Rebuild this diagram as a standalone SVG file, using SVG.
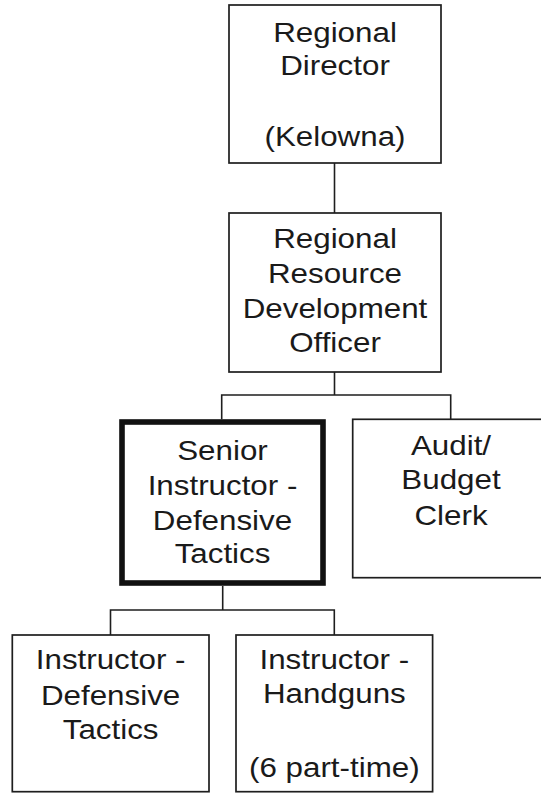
<svg xmlns="http://www.w3.org/2000/svg" width="541" height="793" viewBox="0 0 541 793">
<style>
.box{fill:#fff;stroke:#1e1e1e;stroke-width:1.7}
.thick{fill:#fff;stroke:#111;stroke-width:5.6}
.conn{fill:none;stroke:#1e1e1e;stroke-width:1.6}
text{font-family:"Liberation Sans",Arial,sans-serif;font-size:27.5px;fill:#1a1a1a;text-anchor:middle}
</style>
<rect width="541" height="793" fill="#fff"/>
<g id="connectors">
<path class="conn" d="M334.5 163V213"/>
<path class="conn" d="M334.5 372V395M221.7 419.3V395H450.7V419.3"/>
<path class="conn" d="M222.7 586V610M110.5 635V610H334.3V635"/>
</g>
<g id="regional-director">
<rect class="box" x="229" y="5" width="212" height="158"/>
<g transform="translate(335 0) scale(1.14 1)">
<text x="0" y="41.7">Regional</text>
<text x="0" y="75">Director</text>
<text x="0" y="146.5">(Kelowna)</text>
</g>
</g>
<g id="resource-officer">
<rect class="box" x="229" y="213" width="212" height="159"/>
<g transform="translate(335 0) scale(1.14 1)">
<text x="0" y="248.3">Regional</text>
<text x="0" y="283.3">Resource</text>
<text x="0" y="318.3">Development</text>
<text x="0" y="351.7">Officer</text>
</g>
</g>
<g id="senior-instructor">
<rect class="thick" x="122" y="422" width="201" height="161"/>
<g transform="translate(222.5 0) scale(1.14 1)">
<text x="0" y="460">Senior</text>
<text x="0" y="495">Instructor -</text>
<text x="0" y="530">Defensive</text>
<text x="0" y="563.3">Tactics</text>
</g>
</g>
<g id="audit-clerk">
<rect class="box" x="352.7" y="419.3" width="196.6" height="158.4"/>
<g transform="translate(451 0) scale(1.14 1)">
<text x="0" y="455">Audit/</text>
<text x="0" y="489.3">Budget</text>
<text x="0" y="525">Clerk</text>
</g>
</g>
<g id="instructor-dt">
<rect class="box" x="12.3" y="635" width="196.7" height="156.7"/>
<g transform="translate(110.6 0) scale(1.14 1)">
<text x="0" y="669.3">Instructor -</text>
<text x="0" y="705">Defensive</text>
<text x="0" y="739.3">Tactics</text>
</g>
</g>
<g id="instructor-hg">
<rect class="box" x="236" y="635" width="196.6" height="156.7"/>
<g transform="translate(334.3 0) scale(1.14 1)">
<text x="0" y="669.3">Instructor -</text>
<text x="0" y="703.5">Handguns</text>
<text x="0" y="776.7">(6 part-time)</text>
</g>
</g>
</svg>
